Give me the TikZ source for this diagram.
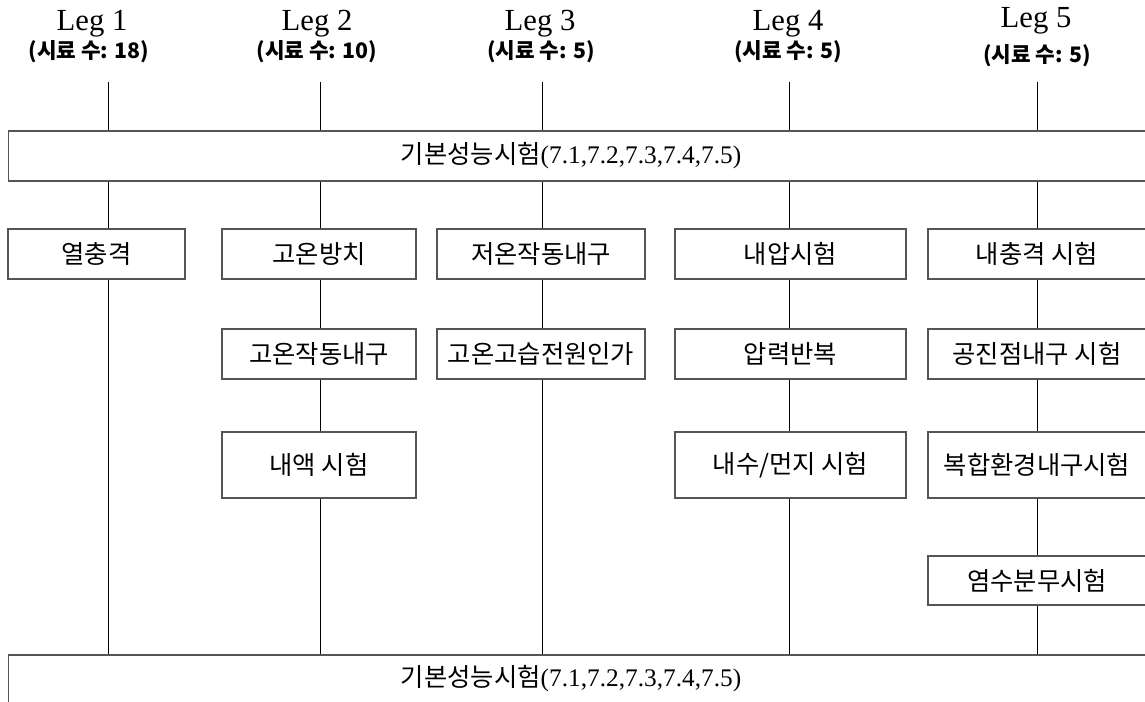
\documentclass[tikz,border=0pt]{standalone}
\usepackage{fontspec}
\setmainfont{Liberation Serif}
\newfontfamily\kr{Noto Sans CJK KR}
\definecolor{boxgray}{HTML}{555555}
\tikzset{
  box/.style={draw=boxgray, line width=1pt, inner sep=0pt, align=center,
    font=\kr\fontsize{19}{21}\selectfont},
  wide/.style={draw=boxgray, line width=1pt, inner sep=0pt, anchor=west,
    minimum width=864pt, minimum height=37.5pt},
  widetext/.style={inner sep=0pt, font=\fontsize{19}{21}\selectfont},
  link/.style={draw=black, line width=0.75pt},
  legtitle/.style={inner sep=0pt, anchor=base, font=\fontsize{23}{26}\selectfont},
  legsub/.style={inner sep=0pt, anchor=base, font=\kr\bfseries\fontsize{16}{19}\selectfont},
  w1/.style={minimum width=132.75pt},
  w2/.style={minimum width=145.5pt},
  w3/.style={minimum width=156pt},
  w4/.style={minimum width=173.25pt},
  w5/.style={minimum width=163.5pt},
  hA/.style={minimum height=37.5pt},
  hB/.style={minimum height=49.5pt},
  hC/.style={minimum height=36.75pt},
}
\begin{document}
\begin{tikzpicture}[x=0.75pt, y=-0.75pt]
\path[use as bounding box, clip] (0,0) rectangle (1145,702);

% titles
\node[legtitle] (L1) at (92,31) {Leg 1};
\node[legsub]   (S1) at (89,59) {(시료 수: 18)};
\node[legtitle] (L2) at (317,31) {Leg 2};
\node[legsub]   (S2) at (317,59) {(시료 수: 10)};
\node[legtitle] (L3) at (540,31) {Leg 3};
\node[legsub]   (S3) at (541,59) {(시료 수: 5)};
\node[legtitle] (L4) at (788,31) {Leg 4};
\node[legsub]   (S4) at (788,59) {(시료 수: 5)};
\node[legtitle] (L5) at (1036,28) {Leg 5};
\node[legsub]   (S5) at (1037,63) {(시료 수: 5)};

% column start points
\coordinate (c1) at (108,82);
\coordinate (c2) at (320,82);
\coordinate (c3) at (542,82);
\coordinate (c4) at (789,82);
\coordinate (c5) at (1037,82);

% wide boxes
\node[wide] (top) at (8,156) {};
\node[widetext] (toptext) at (571,156) {{\kr 기본성능시험}(7.1,7.2,7.3,7.4,7.5)};
\node[wide] (bot) at (8,680) {};
\node[widetext] (bottext) at (571,679) {{\kr 기본성능시험}(7.1,7.2,7.3,7.4,7.5)};

% column 1
\node[box,w1,hA] (b11) at (96.5,254) {열충격};
% column 2
\node[box,w2,hA] (b21) at (319,254) {고온방치};
\node[box,w2,hA] (b22) at (319,354) {고온작동내구};
\node[box,w2,hB] (b23) at (319,465) {내액 시험};
% column 3
\node[box,w3,hA] (b31) at (541,254) {저온작동내구};
\node[box,w3,hA] (b32) at (541,354) {고온고습전원인가};
% column 4
\node[box,w4,hA] (b41) at (790.5,254) {내압시험};
\node[box,w4,hA] (b42) at (790.5,354) {압력반복};
\node[box,w4,hB] (b43) at (790.5,465) {내수/먼지 시험};
% column 5
\node[box,w5,hA] (b51) at (1037,254) {내충격 시험};
\node[box,w5,hA] (b52) at (1037,354) {공진점내구 시험};
\node[box,w5,hB] (b53) at (1037,465) {복합환경내구시험};
\node[box,w5,hC] (b54) at (1037,580.5) {염수분무시험};

% connectors
\foreach \c in {c1,c2,c3,c4,c5} {
  \draw[link] (\c) -- (\c |- top.north);
}
\draw[link] (top.south -| c1) -- (b11.north -| c1);
\draw[link] (b11.south -| c1) -- (bot.north -| c1);

\draw[link] (top.south -| c2) -- (b21.north -| c2);
\draw[link] (b21.south -| c2) -- (b22.north -| c2);
\draw[link] (b22.south -| c2) -- (b23.north -| c2);
\draw[link] (b23.south -| c2) -- (bot.north -| c2);

\draw[link] (top.south -| c3) -- (b31.north -| c3);
\draw[link] (b31.south -| c3) -- (b32.north -| c3);
\draw[link] (b32.south -| c3) -- (bot.north -| c3);

\draw[link] (top.south -| c4) -- (b41.north -| c4);
\draw[link] (b41.south -| c4) -- (b42.north -| c4);
\draw[link] (b42.south -| c4) -- (b43.north -| c4);
\draw[link] (b43.south -| c4) -- (bot.north -| c4);

\draw[link] (top.south -| c5) -- (b51.north -| c5);
\draw[link] (b51.south -| c5) -- (b52.north -| c5);
\draw[link] (b52.south -| c5) -- (b53.north -| c5);
\draw[link] (b53.south -| c5) -- (b54.north -| c5);
\draw[link] (b54.south -| c5) -- (bot.north -| c5);
\end{tikzpicture}
\end{document}
